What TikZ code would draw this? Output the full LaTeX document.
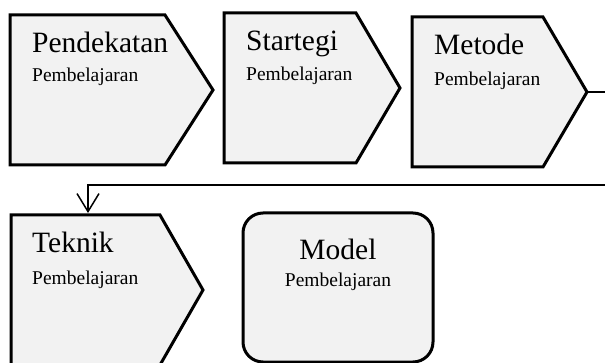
\documentclass[tikz,border=0pt]{standalone}
\usepackage{fontspec}
\setmainfont{Liberation Serif}
\usetikzlibrary{arrows.meta}
\definecolor{boxgray}{HTML}{F2F2F2}

\begin{document}
\begin{tikzpicture}[x=1pt, y=-1pt,
    box/.style={draw, line width=3pt, fill=boxgray, line join=miter},
    title/.style={anchor=base west, inner sep=0pt, font=\fontsize{29.5}{31}\selectfont},
    sub/.style={anchor=base west, inner sep=0pt, font=\fontsize{19.5}{21}\selectfont},
    link/.style={line width=1.5pt, draw=black}]

                \useasboundingbox (0,0) rectangle (605,363);
                \clip (0,0) rectangle (605,363);

                % the arrow boxes
                \draw[box] (10,15) -- (165,15) -- (213,90) coordinate (Ptip) -- (165,165) -- (10,165) -- cycle;
                \draw[box] (224,13) -- (356,13) -- (400,88) coordinate (Stip) -- (356,163) -- (224,163) -- cycle;
                \draw[box] (412,17) -- (543,17) -- (587,92) coordinate (Mtip) -- (543,167) -- (412,167) -- cycle;
                \draw[box] (11,215) -- (160,215) -- (203,290) coordinate (Ttip) -- (160,365) -- (11,365) -- cycle;
                \draw[box, rounded corners=20pt] (243,213) rectangle (433,362);

                \node[title] (P) at (32,53) {Pendekatan};
                \node[sub] (P2) at (32,82) {Pembelajaran};
                \node[title] (S) at (246,51) {Startegi};
                \node[sub] (S2) at (246,81) {Pembelajaran};
                \node[title] (M) at (434,55) {Metode};
                \node[sub] (M2) at (434,86) {Pembelajaran};
                \node[title] (T) at (32,253) {Teknik};
                \node[sub] (T2) at (32,285) {Pembelajaran};
                \node[title, anchor=base] (Mo) at (338,260) {Model};
                \node[sub, anchor=base] (Mo2) at (338,287) {Pembelajaran};

                \coordinate (turn) at (640,185);
                \coordinate (Ttop) at (88,213);

                \draw[link, -{Straight Barb[length=18pt, width=22pt]}] (Mtip) -| (turn) -| (Ttop);

\end{tikzpicture}
\end{document}
